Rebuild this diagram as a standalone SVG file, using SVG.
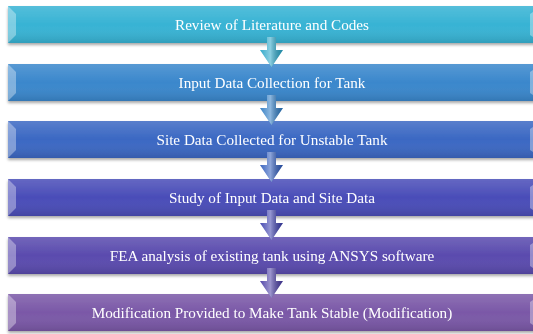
<svg xmlns="http://www.w3.org/2000/svg" width="533" height="334" viewBox="0 0 533 334">
<defs>
<style>
.lbl{font-family:"Liberation Serif","Times New Roman",serif;font-size:15.2px;fill:#ffffff;text-anchor:middle}
.bev{fill:#ffffff;opacity:0.35}
</style>
<linearGradient id="sh" x1="0" y1="0" x2="0" y2="1">
<stop offset="0" stop-color="#ffffff" stop-opacity="0.15"/>
<stop offset="0.5" stop-color="#ffffff" stop-opacity="0"/>
<stop offset="1" stop-color="#000000" stop-opacity="0.12"/>
</linearGradient>
<linearGradient id="shaft" x1="0" y1="0" x2="1" y2="0">
<stop offset="0" stop-color="#ffffff" stop-opacity="0.05"/>
<stop offset="0.45" stop-color="#ffffff" stop-opacity="0.45"/>
<stop offset="1" stop-color="#000000" stop-opacity="0.15"/>
</linearGradient>
<filter id="ds" x="-5%" y="-20%" width="110%" height="150%">
<feGaussianBlur in="SourceAlpha" stdDeviation="1.5"/>
<feOffset dx="0" dy="2" result="b"/>
<feComponentTransfer><feFuncA type="linear" slope="0.35"/></feComponentTransfer>
<feMerge><feMergeNode/><feMergeNode in="SourceGraphic"/></feMerge>
</filter>
</defs>
<g id="n1" filter="url(#ds)">
<rect x="8" y="6" width="528" height="37" fill="#37b3d4"/>
<rect x="8" y="6" width="528" height="37" fill="url(#sh)"/>
<polygon class="bev" points="8,6 16,14 16,35 8,43"/>
<polygon class="bev" points="530,14 533,12 533,37 530,35"/>
<text class="lbl" x="272" y="30">Review of Literature and Codes</text>
</g>
<g id="n2" filter="url(#ds)">
<rect x="8" y="64" width="528" height="37" fill="#3a87cc"/>
<rect x="8" y="64" width="528" height="37" fill="url(#sh)"/>
<polygon class="bev" points="8,64 16,72 16,93 8,101"/>
<polygon class="bev" points="530,72 533,70 533,95 530,93"/>
<text class="lbl" x="272" y="88">Input Data Collection for Tank</text>
</g>
<g id="n3" filter="url(#ds)">
<rect x="8" y="121" width="528" height="37" fill="#3b68c3"/>
<rect x="8" y="121" width="528" height="37" fill="url(#sh)"/>
<polygon class="bev" points="8,121 16,129 16,150 8,158"/>
<polygon class="bev" points="530,129 533,127 533,152 530,150"/>
<text class="lbl" x="272" y="145">Site Data Collected for Unstable Tank</text>
</g>
<g id="n4" filter="url(#ds)">
<rect x="8" y="179" width="528" height="37" fill="#4a4db8"/>
<rect x="8" y="179" width="528" height="37" fill="url(#sh)"/>
<polygon class="bev" points="8,179 16,187 16,208 8,216"/>
<polygon class="bev" points="530,187 533,185 533,210 530,208"/>
<text class="lbl" x="272" y="203">Study of Input Data and Site Data</text>
</g>
<g id="n5" filter="url(#ds)">
<rect x="8" y="237" width="528" height="37" fill="#5a4bae"/>
<rect x="8" y="237" width="528" height="37" fill="url(#sh)"/>
<polygon class="bev" points="8,237 16,245 16,266 8,274"/>
<polygon class="bev" points="530,245 533,243 533,268 530,266"/>
<text class="lbl" x="272" y="261">FEA analysis of existing tank using ANSYS software</text>
</g>
<g id="n6" filter="url(#ds)">
<rect x="8" y="294" width="528" height="37" fill="#7a58a7"/>
<rect x="8" y="294" width="528" height="37" fill="url(#sh)"/>
<polygon class="bev" points="8,294 16,302 16,323 8,331"/>
<polygon class="bev" points="530,302 533,300 533,325 530,323"/>
<text class="lbl" x="272" y="318">Modification Provided to Make Tank Stable (Modification)</text>
</g>
<g id="connectors">
<path d="M267,37 H276 V50 H283 L271.5,67 L260,50 H267 Z" fill="#2aa6c8"/>
<path d="M267,37 H276 V50 H283 L271.5,67 L260,50 H267 Z" fill="url(#shaft)"/>
<path d="M267,95 H276 V108 H283 L271.5,125 L260,108 H267 Z" fill="#2f7cc4"/>
<path d="M267,95 H276 V108 H283 L271.5,125 L260,108 H267 Z" fill="url(#shaft)"/>
<path d="M267,152 H276 V165 H283 L271.5,182 L260,165 H267 Z" fill="#305cbc"/>
<path d="M267,152 H276 V165 H283 L271.5,182 L260,165 H267 Z" fill="url(#shaft)"/>
<path d="M267,210 H276 V223 H283 L271.5,240 L260,223 H267 Z" fill="#3e41ae"/>
<path d="M267,210 H276 V223 H283 L271.5,240 L260,223 H267 Z" fill="url(#shaft)"/>
<path d="M267,268 H276 V281 H283 L271.5,298 L260,281 H267 Z" fill="#4c3fa6"/>
<path d="M267,268 H276 V281 H283 L271.5,298 L260,281 H267 Z" fill="url(#shaft)"/>
</g>
</svg>
